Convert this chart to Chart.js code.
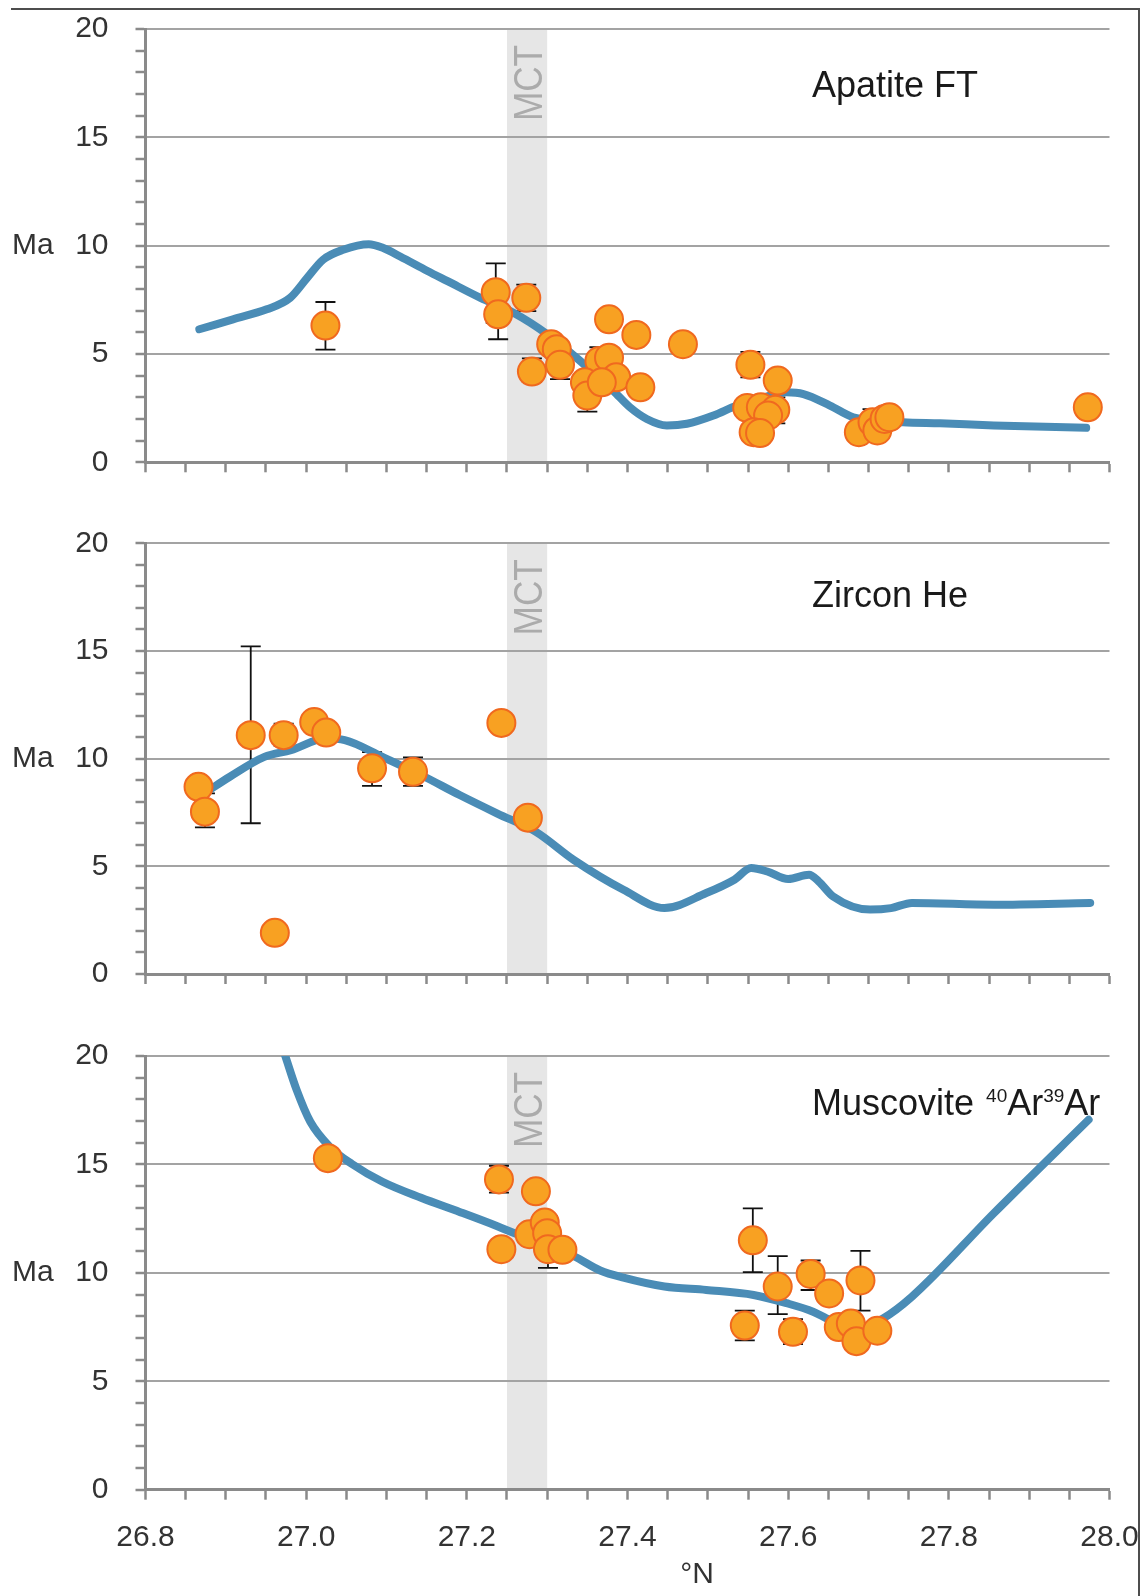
<!DOCTYPE html>
<html>
<head>
<meta charset="utf-8">
<script src="https://cdn.jsdelivr.net/npm/chart.js@4.4.1/dist/chart.umd.min.js"></script>
<style>
  html, body { margin: 0; padding: 0; background: #fff; }
  body { width: 1143px; height: 1596px; position: relative; overflow: hidden; font-family: 'Liberation Sans', Arial, sans-serif; }
  canvas { position: absolute; left: 0; }
  .title { position: absolute; left: 812px; font-size: 36px; line-height: 36px; color: #1a1a1a; white-space: nowrap; }
  .sup { font-size: 19px; position: relative; top: -13px; }
  .xtitle { position: absolute; left: 647px; width: 100px; text-align: center; top: 1558px; font-size: 30px; line-height: 30px; color: #333; }
  .frame-top { position: absolute; left: 11px; top: 7.5px; width: 1129px; height: 2px; background: #4d4d4d; }
  .frame-right { position: absolute; left: 1138px; top: 7.5px; width: 2px; height: 1590px; background: #4d4d4d; }
</style>
</head>
<body>
<div class="frame-top"></div>
<div class="frame-right"></div>
<canvas id="apatite" width="1143" height="492" style="top:0px"></canvas>
<canvas id="zircon" width="1143" height="495" style="top:510px"></canvas>
<canvas id="muscovite" width="1143" height="571" style="top:1025px"></canvas>
<div class="title" style="top:66.8px">Apatite FT</div>
<div class="title" style="top:576.8px">Zircon He</div>
<div class="title" style="top:1084.5px">Muscovite <span class="sup" style="margin-left:2px">40</span>Ar<span class="sup">39</span>Ar</div>
<div class="xtitle">°N</div>

<script>
// latitude range and MCT zone
const xRange = [26.8, 28.0];
const mctRange = [27.25, 27.30];

// Apatite FT samples
const apatiteLat = [27.024, 27.236, 27.239, 27.274, 27.305, 27.312, 27.281, 27.316, 27.377, 27.411, 27.469,
  27.365, 27.377, 27.386, 27.416, 27.347, 27.350, 27.368, 27.553, 27.587, 27.549, 27.566, 27.584, 27.575,
  27.557, 27.565, 27.688, 27.705, 27.711, 27.720, 27.726, 27.973];
const apatiteAge = [6.31, 7.85, 6.83, 7.59, 5.45, 5.22, 4.19, 4.5, 6.6, 5.88, 5.45,
  4.68, 4.83, 3.92, 3.46, 3.69, 3.08, 3.69, 4.5, 3.77, 2.51, 2.54, 2.42, 2.16,
  1.39, 1.35, 1.39, 1.85, 1.47, 2.0, 2.08, 2.54];
const apatiteErrLat = [27.024, 27.236, 27.239, 27.274, 27.305, 27.281, 27.316, 27.365, 27.350, 27.553, 27.584, 27.705];
const apatiteErrLo = [5.2, 6.44, 5.68, 6.98, 5.1, 3.7, 3.84, 4.1, 2.34, 3.92, 1.8, 1.25];
const apatiteErrHi = [7.4, 9.18, 7.9, 8.2, 5.83, 4.8, 5.2, 5.31, 3.8, 5.1, 3.0, 2.45];
const apatiteModelLat = [26.867, 26.909, 26.951, 26.98, 27.001, 27.021, 27.046, 27.078, 27.096, 27.117, 27.151,
  27.176, 27.217, 27.258, 27.3, 27.341, 27.382, 27.403, 27.424, 27.449, 27.474, 27.507, 27.536, 27.57,
  27.598, 27.619, 27.652, 27.681, 27.743, 27.789, 27.856, 27.971];
const apatiteModelAge = [6.14, 6.6, 7.06, 7.59, 8.5, 9.35, 9.81, 10.07, 9.89, 9.5, 8.83,
  8.36, 7.59, 6.9, 5.91, 4.68, 3.31, 2.54, 2.0, 1.7, 1.78, 2.16, 2.62, 3.0,
  3.23, 3.15, 2.62, 2.08, 1.85, 1.8, 1.7, 1.59];

// Zircon He samples
const zirconLat = [26.866, 26.874, 26.931, 26.972, 26.961, 27.010, 27.025, 27.082, 27.133, 27.243, 27.276];
const zirconAge = [8.69, 7.54, 11.09, 11.09, 1.91, 11.70, 11.21, 9.55, 9.39, 11.66, 7.26];
const zirconErrLat = [26.874, 26.931, 26.972, 27.082, 27.133];
const zirconErrLo = [6.81, 7.0, 10.6, 8.74, 8.74];
const zirconErrHi = [8.39, 15.21, 11.63, 10.3, 10.06];
const zirconModelLat = [26.876, 26.905, 26.948, 26.981, 27.024, 27.048, 27.095, 27.143, 27.191, 27.238, 27.286,
  27.333, 27.395, 27.446, 27.498, 27.533, 27.554, 27.574, 27.6, 27.626, 27.638, 27.656, 27.702, 27.728,
  27.754, 27.856, 27.976];
const zirconModelAge = [8.46, 9.16, 10.08, 10.39, 10.93, 10.86, 10.08, 9.24, 8.31, 7.45, 6.6,
  5.3, 3.91, 3.06, 3.76, 4.38, 4.92, 4.76, 4.41, 4.61, 4.3, 3.6, 2.99, 3.06,
  3.3, 3.22, 3.3];

// Muscovite 40Ar/39Ar samples
const muscLat = [27.027, 27.240, 27.243, 27.286, 27.278, 27.297, 27.300, 27.301, 27.319, 27.556,
  27.587, 27.628, 27.651, 27.690, 27.546, 27.606, 27.663, 27.678, 27.685, 27.711];
const muscAge = [15.29, 14.31, 11.09, 13.76, 11.78, 12.32, 11.83, 11.09, 11.06, 11.5,
  9.37, 9.95, 9.05, 9.65, 7.57, 7.28, 7.5, 7.66, 6.85, 7.33];
const muscErrLat = [27.240, 27.301, 27.556, 27.587, 27.628, 27.690, 27.546, 27.606];
const muscErrLo = [13.7, 10.23, 10.03, 8.1, 9.21, 8.26, 6.89, 6.71];
const muscErrHi = [14.94, 12.6, 12.97, 10.77, 10.57, 11.01, 8.26, 7.87];
const muscModelLat = [26.974, 26.988, 27.005, 27.029, 27.057, 27.095, 27.143, 27.191, 27.238, 27.286, 27.333,
  27.366, 27.395, 27.446, 27.498, 27.557, 27.598, 27.631, 27.652, 27.685, 27.718, 27.754, 27.856, 27.974];
const muscModelAge = [20.0, 18.45, 16.98, 15.83, 15.02, 14.2, 13.46, 12.81, 12.15, 11.42, 10.77,
  10.11, 9.78, 9.37, 9.21, 8.98, 8.6, 8.21, 7.83, 7.45, 7.9, 8.9, 12.75, 17.06];

const yTicks = [0, 5, 10, 15, 20];

const AXIS = '#8a8a8a';
const GRID = '#a3a3a3';
const LINE = '#4a8cb6';

Chart.defaults.font.family = "'Liberation Sans', Arial, sans-serif";
Chart.defaults.font.size = 30;
Chart.defaults.color = '#333';

const toPoints = (xs, ys) => xs.map((x, i) => ({ x, y: ys[i] }));
const isMajorLat = v => Math.abs(v / 0.2 - Math.round(v / 0.2)) < 1e-6;

// grey MCT band behind the grid, with rotated label
const mctPlugin = {
  id: 'mct',
  beforeDraw(chart) {
    const { ctx, chartArea: a } = chart;
    const x = chart.scales.x;
    const x0 = x.getPixelForValue(mctRange[0]);
    const x1 = x.getPixelForValue(mctRange[1]);
    ctx.save();
    ctx.fillStyle = '#e6e6e6';
    ctx.fillRect(x0, a.top, x1 - x0, a.bottom - a.top);
    ctx.translate((x0 + x1) / 2, a.top + 54);
    ctx.rotate(-Math.PI / 2);
    ctx.scale(0.88, 1);
    ctx.font = "40px 'Liberation Sans'";
    ctx.fillStyle = '#ababab';
    ctx.textAlign = 'center';
    ctx.textBaseline = 'alphabetic';
    ctx.fillText('MCT', 0, 14.5);
    ctx.restore();
  }
};

// horizontal "Ma" beside the 10 tick
const maPlugin = {
  id: 'maLabel',
  afterDraw(chart) {
    const { ctx } = chart;
    const y = chart.scales.y.getPixelForValue(10);
    ctx.save();
    ctx.font = "30px 'Liberation Sans'";
    ctx.fillStyle = '#333';
    ctx.textAlign = 'left';
    ctx.textBaseline = 'middle';
    ctx.fillText('Ma', 12, y);
    ctx.restore();
  }
};

Chart.register(mctPlugin, maPlugin);

function errorBars(lat, lo, hi) {
  return {
    id: 'errorBars',
    beforeDatasetsDraw(chart) {
      const { ctx } = chart;
      const { x, y } = chart.scales;
      ctx.save();
      ctx.strokeStyle = '#111';
      ctx.lineWidth = 1.8;
      lat.forEach((v, i) => {
        const px = x.getPixelForValue(v);
        const pLo = y.getPixelForValue(lo[i]);
        const pHi = y.getPixelForValue(hi[i]);
        ctx.beginPath();
        ctx.moveTo(px, pLo); ctx.lineTo(px, pHi);
        ctx.moveTo(px - 10, pLo); ctx.lineTo(px + 10, pLo);
        ctx.moveTo(px - 10, pHi); ctx.lineTo(px + 10, pHi);
        ctx.stroke();
      });
      ctx.restore();
    }
  };
}

function makePanel(id, pts, model, errs, padTop, xHeight, showLabels) {
  return new Chart(document.getElementById(id), {
    type: 'scatter',
    data: {
      datasets: [
        {
          data: pts, order: 0,
          pointRadius: 14, pointHoverRadius: 14,
          pointBackgroundColor: '#f8a122', pointBorderColor: '#f0691f', pointBorderWidth: 2
        },
        {
          data: model, order: 1, showLine: true,
          borderColor: LINE, borderWidth: 8, pointRadius: 0,
          cubicInterpolationMode: 'monotone', borderCapStyle: 'round', borderJoinStyle: 'round', fill: false
        }
      ]
    },
    options: {
      responsive: false,
      animation: false,
      devicePixelRatio: 1,
      layout: { autoPadding: false, padding: { top: padTop, right: 33.5, left: 0, bottom: 0 } },
      plugins: { legend: { display: false }, tooltip: { enabled: false } },
      scales: {
        x: {
          type: 'linear', min: xRange[0], max: xRange[1],
          afterFit: s => { s.height = xHeight; s.paddingLeft = 0; s.paddingRight = 0; },
          border: { color: AXIS, width: 3 },
          grid: { drawOnChartArea: false, drawTicks: true, tickLength: 10, tickColor: AXIS, tickWidth: 2.5 },
          ticks: {
            stepSize: 0.05, padding: 20, autoSkip: false, maxRotation: 0, color: '#333',
            callback: v => (showLabels && isMajorLat(v)) ? v.toFixed(1) : ''
          }
        },
        y: {
          min: 0, max: 20,
          afterFit: s => { s.width = 145.5; s.paddingTop = 0; s.paddingBottom = 0; },
          border: { color: AXIS, width: 3 },
          grid: {
            color: c => (c.tick && c.tick.value > 0 && yTicks.includes(c.tick.value)) ? GRID : 'rgba(0,0,0,0)',
            lineWidth: 2, tickLength: 10, tickColor: AXIS, tickWidth: 2.5
          },
          ticks: {
            stepSize: 1, padding: 27, autoSkip: false, color: '#333',
            callback: v => yTicks.includes(v) ? String(v) : ''
          }
        }
      }
    },
    plugins: [errorBars(errs[0], errs[1], errs[2])]
  });
}

makePanel('apatite', toPoints(apatiteLat, apatiteAge), toPoints(apatiteModelLat, apatiteModelAge),
  [apatiteErrLat, apatiteErrLo, apatiteErrHi], 29, 29.7, false);
makePanel('zircon', toPoints(zirconLat, zirconAge), toPoints(zirconModelLat, zirconModelAge),
  [zirconErrLat, zirconErrLo, zirconErrHi], 33.3, 31, false);
makePanel('muscovite', toPoints(muscLat, muscAge), toPoints(muscModelLat, muscModelAge),
  [muscErrLat, muscErrLo, muscErrHi], 31, 106.3, true);
</script>
</body>
</html>
